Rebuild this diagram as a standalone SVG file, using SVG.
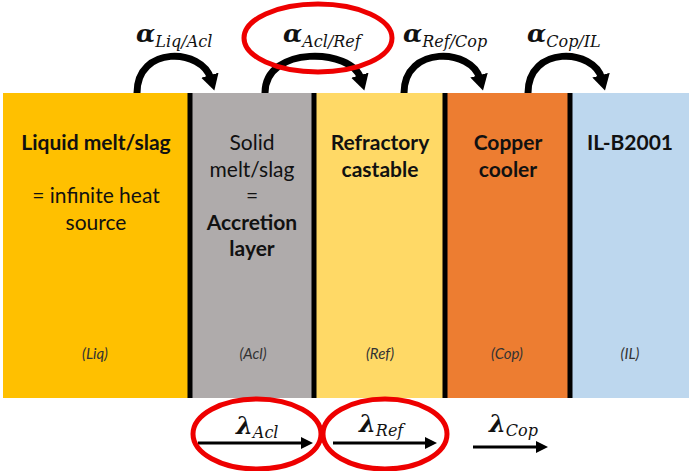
<svg xmlns="http://www.w3.org/2000/svg" width="689" height="471" viewBox="0 0 689 471">
<style>
.t{font-family:Lato,"Open Sans","Liberation Sans",sans-serif;font-size:21px;fill:#111;text-anchor:middle}
.b{font-weight:bold}
.i{font-family:Lato,"Open Sans","Liberation Sans",sans-serif;font-size:15px;font-style:italic;fill:#333;text-anchor:middle}
.m{font-family:"DejaVu Serif","Liberation Serif",serif;font-style:italic;font-weight:bold;fill:#111}
.s{font-weight:normal;font-size:16px}
.sep{stroke:#000;stroke-width:5}
.arc{fill:none;stroke:#000;stroke-width:7}
.ln{fill:none;stroke:#000;stroke-width:3}
.red{fill:none;stroke:#EE0000;stroke-width:5}
</style>
<defs>
<marker id="hb" markerUnits="userSpaceOnUse" markerWidth="18" markerHeight="18" refX="4" refY="9" orient="auto" viewBox="0 0 18 18">
<path d="M0,0 L16,9 L0,18 z" fill="#000"/>
</marker>
<marker id="hs" markerUnits="userSpaceOnUse" markerWidth="12" markerHeight="12" refX="2" refY="6" orient="auto" viewBox="0 0 12 12">
<path d="M0,0 L12,6 L0,12 z" fill="#000"/>
</marker>
</defs>
<rect width="689" height="471" fill="#fff"/>
<g id="liq">
<rect x="3" y="93" width="187" height="305" fill="#FFC000"/>
<text class="t b" x="96" y="150">Liquid melt/slag</text>
<text class="t" x="96" y="203">= infinite heat</text>
<text class="t" x="96" y="230">source</text>
<text class="i" x="95" y="359">(Liq)</text>
</g>
<g id="acl">
<rect x="190" y="93" width="124" height="305" fill="#AFABAB"/>
<text class="t" x="252" y="150">Solid</text>
<text class="t" x="252" y="177">melt/slag</text>
<text class="t" x="252" y="203">=</text>
<text class="t b" x="252" y="230">Accretion</text>
<text class="t b" x="252" y="256">layer</text>
<text class="i" x="253" y="359">(Acl)</text>
</g>
<g id="ref">
<rect x="314" y="93" width="131" height="305" fill="#FFD966"/>
<text class="t b" x="380" y="150">Refractory</text>
<text class="t b" x="380" y="177">castable</text>
<text class="i" x="380" y="359">(Ref)</text>
</g>
<g id="cop">
<rect x="445" y="93" width="125" height="305" fill="#ED7D31"/>
<text class="t b" x="508" y="150">Copper</text>
<text class="t b" x="508" y="177">cooler</text>
<text class="i" x="507" y="359">(Cop)</text>
</g>
<g id="il">
<rect x="570" y="93" width="119" height="305" fill="#BDD7EE"/>
<text class="t b" x="630" y="150">IL-B2001</text>
<text class="i" x="630" y="359">(IL)</text>
</g>
<g id="separators">
<line class="sep" x1="190" y1="93" x2="190" y2="398"/>
<line class="sep" x1="314" y1="93" x2="314" y2="398"/>
<line class="sep" x1="445" y1="93" x2="445" y2="398"/>
<line class="sep" x1="570" y1="93" x2="570" y2="398"/>
</g>
<g id="connectors">
<path class="arc" d="M137,93 C137,45 202,48 211,79" marker-end="url(#hb)"/>
<path class="arc" d="M265,93 C265,45 352,48 361,79" marker-end="url(#hb)"/>
<path class="arc" d="M404,93 C404,45 472,48 480,79" marker-end="url(#hb)"/>
<path class="arc" d="M528,93 C528,45 594,48 602,79" marker-end="url(#hb)"/>
<line class="ln" x1="198" y1="443" x2="303" y2="443" marker-end="url(#hs)"/>
<line class="ln" x1="333" y1="443" x2="427" y2="443" marker-end="url(#hs)"/>
<line class="ln" x1="473" y1="447" x2="538" y2="447" marker-end="url(#hs)"/>
</g>
<g id="labels">
<text class="m" x="136" y="42" font-size="25">α<tspan class="s" dy="5">Liq/Acl</tspan></text>
<text class="m" x="283" y="42" font-size="25">α<tspan class="s" dy="5">Acl/Ref</tspan></text>
<text class="m" x="403" y="42" font-size="25">α<tspan class="s" dy="5">Ref/Cop</tspan></text>
<text class="m" x="527" y="42" font-size="25">α<tspan class="s" dy="5">Cop/IL</tspan></text>
<text class="m" x="236" y="434" font-size="24">λ<tspan class="s" dy="4">Acl</tspan></text>
<text class="m" x="359" y="432" font-size="24">λ<tspan class="s" dy="4">Ref</tspan></text>
<text class="m" x="489" y="432" font-size="24">λ<tspan class="s" dy="4">Cop</tspan></text>
</g>
<g id="highlights">
<ellipse class="red" cx="318" cy="38" rx="74" ry="34"/>
<ellipse class="red" cx="257" cy="434" rx="64" ry="35"/>
<ellipse class="red" cx="385" cy="434" rx="62" ry="35"/>
</g>
</svg>
